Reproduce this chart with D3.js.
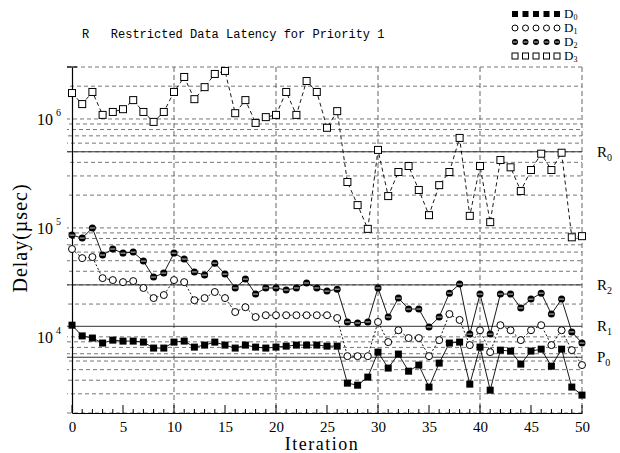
<!DOCTYPE html>
<html><head><meta charset="utf-8">
<script src="https://cdn.jsdelivr.net/npm/d3@7/dist/d3.min.js"></script>
<style>
html,body{margin:0;padding:0;background:#fff;}
svg{display:block;}
</style></head><body>
<svg id="chart" width="620" height="453"></svg>
<script>
// Iteration index (x categories)
const iterations = [0,1,2,3,4,5,6,7,8,9,10,11,12,13,14,15,16,17,18,19,20,21,22,23,24,25,
  26,27,28,29,30,31,32,33,34,35,36,37,38,39,40,41,42,43,44,45,46,47,48,49,50];

// Delay per iteration, microseconds
const delayD0 = [12800,10200,9750,8770,9330,9140,9140,8950,7890,7890,8950,9140,8050,8400,8950,8400,
  7890,8400,8050,7890,8050,8220,8400,8400,8400,8220,8220,3760,3600,4270,7240,5170,6950,4840,5510,
  3460,5740,8770,8950,3680,8050,3240,7550,7400,5620,7400,7710,5380,7710,3460,2920];
const delayD1 = [64000,52800,54000,34600,33200,31800,32500,28100,22700,24200,33200,31800,21700,22700,
  25800,22700,16900,18700,15200,15800,15800,15800,15800,15800,15800,15800,14900,6650,6650,6650,13700,
  8950,11500,9750,9750,6650,9330,16200,14300,8400,11500,7240,12800,11500,9330,11500,12800,8400,11500,
  7550,5510];
const delayD2 = [85900,80700,99800,56400,64000,58700,60000,49600,35400,38500,58700,51800,39400,36900,
  47500,37700,28100,33900,24700,28100,28100,26900,28100,31200,28100,26300,27400,13700,13400,13700,28100,
  15200,22700,18000,18000,12300,15200,25200,30500,10600,24700,10600,24700,24700,18400,22200,25200,16200,
  22200,11100,8770];
const delayD3 = [1730000,1370000,1770000,1090000,1160000,1230000,1490000,1160000,940000,1160000,1770000,
  2430000,1520000,1960000,2590000,2760000,1130000,1490000,920000,1040000,1090000,1770000,1090000,2230000,
  1770000,830000,1180000,264000,162000,98000,520000,196000,326000,370000,223000,131000,247000,326000,
  670000,129000,370000,113000,420000,360000,218000,340000,480000,340000,490000,82000,84000];

// Requirement levels drawn as reference lines
const levelNames = ["R", "R", "R", "P"];
const levelSubs = ["0", "2", "1", "0"];
const levelValues = [500000, 30000, 12500, 6500];

const xTickValues = [0,5,10,15,20,25,30,35,40,45,50];
const xGridValues = [10,20,30,40,50];
const yDecadeValues = [10000, 100000, 1000000];
const yDecadeExps = ["4", "5", "6"];

const legendNames = ["D", "D", "D", "D"];
const legendSubs = ["0", "1", "2", "3"];

const svg = d3.select("#chart");
const serif = "'Liberation Serif', 'DejaVu Serif', serif";
const mono = "'Liberation Mono', 'DejaVu Sans Mono', monospace";

const x = d3.scaleLinear().domain([0, 50]).range([72, 582]);
const y = d3.scaleLog().domain([2000, 3000000]).range([413, 67]);

// Horizontal grid at every log step (dashed, staggered dash phase)
const gridVals = [];
[3,4,5,6].forEach(k => {
  for (let m = 1; m <= 9; m++) {
    const v = m * Math.pow(10, k);
    if (v >= 2000 && v <= 3000000) gridVals.push(v);
  }
});
svg.append("g").selectAll("line").data(gridVals).join("line")
  .attr("x1", 67).attr("x2", 582)
  .attr("y1", d => y(d)).attr("y2", d => y(d))
  .attr("stroke", "#777").attr("stroke-width", 1)
  .attr("stroke-dasharray", "4,3")
  .attr("stroke-dashoffset", (d, i) => (i * 3) % 7);

// Vertical grid (dashed)
svg.append("g").selectAll("line").data(xGridValues).join("line")
  .attr("x1", d => x(d)).attr("x2", d => x(d))
  .attr("y1", 67).attr("y2", 413)
  .attr("stroke", "#666").attr("stroke-width", 1)
  .attr("stroke-dasharray", "5,3");

// Requirement lines
svg.append("g").selectAll("line").data(levelValues).join("line")
  .attr("x1", 67).attr("x2", 582)
  .attr("y1", d => y(d)).attr("y2", d => y(d))
  .attr("stroke", "#333").attr("stroke-width", 1);

const lvl = svg.append("g").selectAll("text").data(levelValues).join("text")
  .attr("x", 597).attr("y", d => y(d) + 5)
  .attr("font-family", serif).attr("font-size", 15);
lvl.append("tspan").text((d, i) => levelNames[i]);
lvl.append("tspan").attr("dy", 4).attr("font-size", 10).text((d, i) => levelSubs[i]);

// Axes
const xAxis = d3.axisBottom(x).tickValues(xTickValues).tickSize(0).tickPadding(8)
  .tickFormat(d3.format("d"));
const gx = svg.append("g").attr("transform", "translate(0,413)").call(xAxis);
gx.select(".domain").attr("stroke", "#000").attr("stroke-width", 1.2);
gx.selectAll("text").attr("font-family", serif).attr("font-size", 15).attr("fill", "#000");
// upward ticks: every iteration short, every fifth longer
svg.append("g").selectAll("line").data(iterations).join("line")
  .attr("x1", d => x(d)).attr("x2", d => x(d))
  .attr("y1", 413).attr("y2", d => d % 5 === 0 ? 405 : 409)
  .attr("stroke", "#000").attr("stroke-width", 1);

const yAxis = d3.axisLeft(y).tickValues(yDecadeValues).tickSize(0).tickFormat(() => "");
const gy = svg.append("g").attr("transform", "translate(72,0)").call(yAxis);
gy.select(".domain").attr("stroke", "#000").attr("stroke-width", 1.2);
svg.append("line").attr("x1", 67).attr("x2", 77).attr("y1", 67).attr("y2", 67)
  .attr("stroke", "#000").attr("stroke-width", 1.2);

const yl = svg.append("g").selectAll("text").data(yDecadeValues).join("text")
  .attr("x", 37).attr("y", d => y(d) + 6)
  .attr("font-family", serif).attr("font-size", 16);
yl.append("tspan").text("10");
yl.append("tspan").attr("dx", 3).attr("dy", -9).attr("font-size", 10).text((d, i) => yDecadeExps[i]);

// Axis titles
svg.append("text").attr("x", 322).attr("y", 450).attr("text-anchor", "middle")
  .attr("font-family", serif).attr("font-size", 18).attr("letter-spacing", 1.5)
  .text("Iteration");
svg.append("text").attr("transform", "translate(27,238) rotate(-90)")
  .attr("text-anchor", "middle")
  .attr("font-family", serif).attr("font-size", 20).attr("letter-spacing", 1)
  .text("Delay(\u00b5sec)");

// Title
svg.append("text").attr("x", 82).attr("y", 38)
  .attr("font-family", mono).attr("font-size", 12)
  .style("white-space", "pre")
  .text("R   Restricted Data Latency for Priority 1");

// Series
const series = [
  { values: delayD0, dash: null, marker: "fsquare" },
  { values: delayD1, dash: "2,2", marker: "ocircle" },
  { values: delayD2, dash: null, marker: "fcircle" },
  { values: delayD3, dash: "4,3", marker: "osquare" }
];

function drawMarker(g, kind, cx, cy, s) {
  if (kind === "fsquare") {
    g.append("rect").attr("x", cx - s/2).attr("y", cy - s/2).attr("width", s).attr("height", s)
      .attr("fill", "#000");
  } else if (kind === "osquare") {
    g.append("rect").attr("x", cx - s/2).attr("y", cy - s/2).attr("width", s).attr("height", s)
      .attr("fill", "#fff").attr("stroke", "#000").attr("stroke-width", 1);
  } else if (kind === "ocircle") {
    g.append("circle").attr("cx", cx).attr("cy", cy).attr("r", s/2)
      .attr("fill", "#fff").attr("stroke", "#000").attr("stroke-width", 1);
  } else {
    g.append("circle").attr("cx", cx).attr("cy", cy).attr("r", s/2).attr("fill", "#000");
    g.append("line").attr("x1", cx - s/2 + 1).attr("x2", cx + s/2 - 1).attr("y1", cy).attr("y2", cy)
      .attr("stroke", "#fff").attr("stroke-width", 0.8);
  }
}

const line = d3.line().x((d, i) => x(iterations[i])).y(d => y(d));
series.forEach(s => {
  svg.append("path").datum(s.values).attr("d", line)
    .attr("fill", "none").attr("stroke", "#000").attr("stroke-width", 0.9)
    .attr("stroke-dasharray", s.dash);
});
series.forEach(s => {
  const g = svg.append("g");
  s.values.forEach((v, i) => drawMarker(g, s.marker, x(iterations[i]), y(v), 7));
});

// Legend
const legendY = [14, 28, 42, 56];
series.forEach((s, k) => {
  const g = svg.append("g");
  for (let j = 0; j < 5; j++) drawMarker(g, s.marker, 515 + j * 10.5, legendY[k], 6);
  const t = g.append("text").attr("x", 564).attr("y", legendY[k] + 4)
    .attr("font-family", serif).attr("font-size", 13);
  t.append("tspan").text(legendNames[k]);
  t.append("tspan").attr("dy", 2).attr("font-size", 8).text(legendSubs[k]);
});
</script>
</body></html>
